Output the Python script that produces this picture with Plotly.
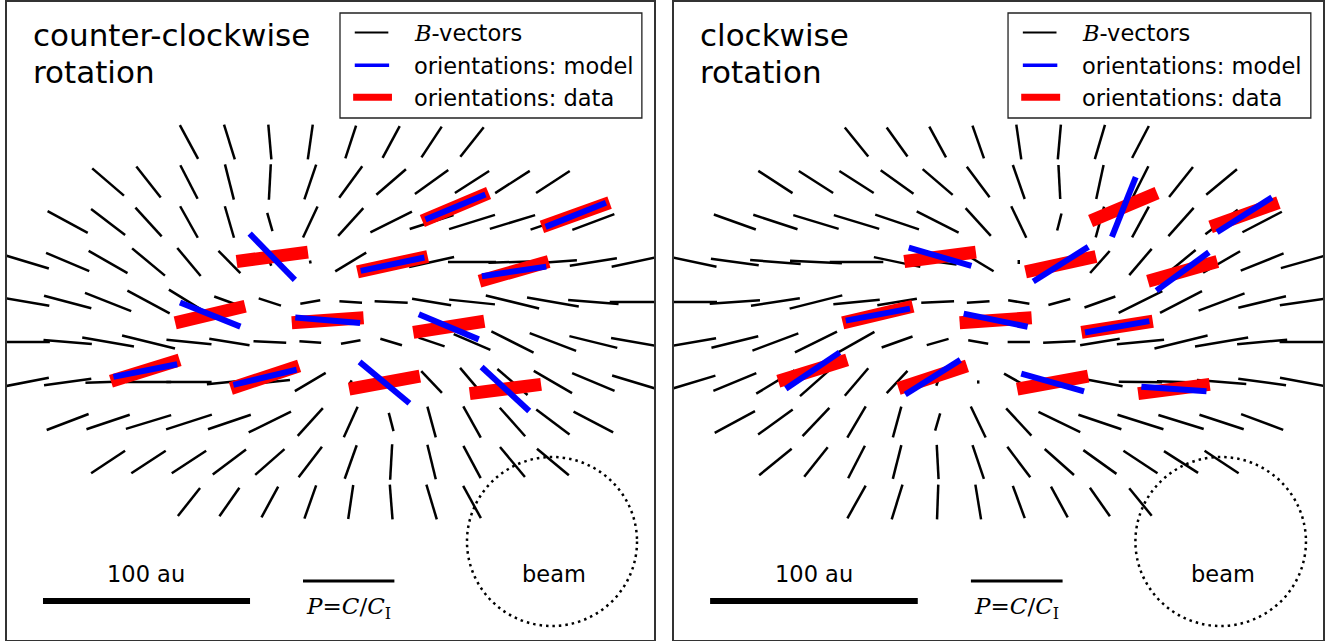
import math
import plotly.graph_objects as go

# ---------------- data ----------------
# B-vector grid (grid units; 1 unit ~ 19.5 au)
COL_X = [-7.5 + i for i in range(16)]
ROW_Y = [4.5 - j for j in range(10)]
ROW_START = [4, 2, 1, 0, 0, 0, 0, 1, 2, 4]

# counter-clockwise model: B-vector angles (deg from +x) and lengths (grid units)
CCW_ANG = [
    [-62, -73, -85, 82, 72, 62, 57, 52],
    [-41, -52, -63, -76, 87, 71.5, 54, 41, 36, 33, 33, 33.5],
    [-28.5, -37.4, -48, -61, -74, -74, 65, 48, 26.6, 18, 17.4, 17, 19, 20.6],
    [-17, -23, -30, -40, -50.5, -46, -70, -80, 31.5, 15, 12.6, 0, 2, 4, 9, 12],
    [-10, -15, -21.7, -28.5, -32, -20, -18, 9.5, -4, -3, -9.7, -6, -14, -10, -4.6, 0],
    [0, -4.8, -10, -14, -6, -9.5, -3, -4.4, 10, -17, -19, -23.5, -27, -21, -14, -10],
    [11, 8, 2, 0, 0, 6, 6, 31, 60, -40, -47, -50, -41, -30.6, -23, -17],
    [21, 18.7, 17, 18, 19, 26.6, 48, 66, -75.6, -75, -61, -48.6, -37, -28],
    [33.7, 33.5, 33.5, 37, 41.6, 53, 70.6, 86.8, -76.5, -62, -50.5, -40],
    [52, 55.4, 61.7, 70.7, 81.7, -85.6, -73.6, -61.6],
]
CCW_LEN = [
    [0.96, 0.91, 0.87, 0.88, 0.86, 0.90, 0.92, 0.94],
    [1.04, 0.98, 0.94, 0.91, 0.89, 0.92, 0.97, 0.97, 1.02, 1.01, 1.02, 1.00],
    [1.13, 1.06, 0.97, 0.90, 0.82, 0.47, 0.85, 0.93, 1.15, 1.14, 1.19, 1.17, 1.17, 1.11],
    [1.12, 1.16, 1.11, 1.06, 0.91, 0.78, 0.20, 0.08, 0.90, 0.60, 1.14, 1.19, 1.19, 1.19, 1.18, 1.12],
    [1.11, 1.21, 1.23, 1.19, 1.17, 0.80, 0.58, 0.50, 0.56, 0.82, 0.98, 1.14, 1.36, 1.30, 1.25, 1.19],
    [1.12, 1.20, 1.30, 1.35, 1.12, 1.01, 0.81, 0.54, 0.49, 0.56, 0.68, 0.99, 1.17, 1.23, 1.22, 1.14],
    [1.09, 1.18, 1.12, 1.12, 1.12, 1.12, 1.00, 0.89, 0.10, 0.25, 0.75, 0.92, 0.99, 1.10, 1.14, 1.12],
    [1.11, 1.13, 1.17, 1.19, 1.12, 1.17, 0.93, 0.84, 0.47, 0.80, 0.89, 0.95, 1.03, 1.11],
    [1.01, 1.02, 1.02, 1.03, 0.97, 0.96, 0.89, 0.89, 0.89, 0.91, 0.97, 1.03],
    [0.89, 0.87, 0.87, 0.88, 0.86, 0.87, 0.91, 0.92],
]

# clockwise model
CW_ANG = [
    [-51.5, -54.8, -61.7, -71, -82, 85, 73.7, 62.7],
    [-33.3, -33, -33, -36, -41, -53.8, -71, -87, 78, 63.7, 51.7, 40],
    [-19.8, -18.5, -17, -17, -19, -27, -48, -64.7, 76, 75, 61.7, 48.5, 37.7, 27.8],
    [-12, -8, -4.6, -2.6, 0, -12, -8, -31.5, 90, 40, 48.7, 50, 40, 30.6, 22, 16],
    [0, 3.8, 9, 14.3, 5.8, 9.7, 3, 4.3, -9, 15.5, 20, 27, 27.8, 20.7, 13.9, 8.4],
    [10, 14, 20.7, 26.7, 30, 20, 16, -9.5, 0, 3, 9.6, 5.7, 14, 9.7, 5.3, 0],
    [17, 22.9, 31.6, 42, 50, 47.6, 70, 90, -30, -15, -11, -1, -2, -4.7, -8, -10.5],
    [28.5, 36.4, 47, 59.7, 75, 74, -64.8, -47.5, -26.4, -19, -17.8, -17.3, -18.5, -20.8],
    [39.6, 52, 63, 76, -87, -71.6, -53.5, -41.9, -36, -33.7, -32.8, -33.7],
    [61, 73, 88, -80.8, -70, -61.7, -55.4, -51],
]
CW_LEN = [
    [0.93, 0.89, 0.87, 0.87, 0.88, 0.87, 0.89, 0.90],
    [1.01, 1.01, 1.01, 1.00, 0.98, 0.95, 0.90, 0.85, 0.87, 0.88, 0.95, 0.99],
    [1.10, 1.15, 1.17, 1.17, 1.14, 1.16, 0.93, 0.87, 0.44, 0.80, 0.87, 0.94, 1.01, 1.10],
    [1.12, 1.19, 1.25, 1.28, 1.32, 1.17, 0.94, 0.89, 0.10, 0.25, 0.73, 0.86, 0.94, 1.06, 1.14, 1.12],
    [1.12, 1.24, 1.22, 1.34, 1.15, 0.99, 0.81, 0.56, 0.53, 0.56, 0.81, 1.21, 1.17, 1.21, 1.21, 1.14],
    [1.09, 1.19, 1.21, 1.16, 1.02, 0.81, 0.56, 0.50, 0.55, 0.80, 0.99, 1.17, 1.35, 1.33, 1.24, 1.14],
    [1.09, 1.15, 1.11, 1.06, 0.90, 0.76, 0.20, 0.08, 0.84, 0.60, 1.14, 1.07, 1.19, 1.22, 1.19, 1.14],
    [1.13, 1.06, 0.97, 0.90, 0.80, 0.45, 0.86, 0.92, 1.15, 1.12, 1.19, 1.17, 1.15, 1.11],
    [1.04, 0.94, 0.91, 0.87, 0.86, 0.89, 0.95, 0.97, 1.01, 1.01, 1.00, 1.01],
    [0.93, 0.91, 0.87, 0.88, 0.86, 0.87, 0.87, 0.88],
]

# observed orientations (data) and model orientations at the same positions
ORI_X = [-1.44, -2.975, -0.07, 2.925, 1.535, 3.09, 6.065, 4.54, -4.58, -1.62, 1.335, 4.325]
ORI_Y = [1.63, 0.185, 0.045, -0.12, 1.445, 2.875, 2.68, 1.265, -1.215, -1.38, -1.515, -1.675]
DATA_ANG = [7.5, 13.5, 4, 9, 12.5, 23, 20, 16, 17.5, 18.5, 10.5, 7.5]
MODEL_CCW_ANG = [-46, -22, -5, -23, 12, 23, 22, 8.5, 11.3, 13.7, -40, -43]
MODEL_CW_ANG = [-16.5, 10.7, -11.8, 10.2, 32.6, 68.6, 32.7, 36.5, 34.5, 32.5, -16, -4]

PANEL_TITLES = [["counter-clockwise", "rotation"], ["clockwise", "rotation"]]
LEGEND_LABELS = ["<span style='font-family:DejaVu Serif'><i>B</i></span>-vectors",
                 "orientations: model", "orientations: data"]
SCALE_LABEL = "100 au"
POL_LABEL = "<i>P</i>=<i>C</i>/<i>C</i><sub>I</sub>"
BEAM_LABEL = "beam"

# ---------------- helpers ----------------
DATA_LEN = 1.78
MODEL_LEN = 1.61


def seg(xc, yc, ang, length):
    a = math.radians(ang)
    dx = 0.5 * length * math.cos(a)
    dy = 0.5 * length * math.sin(a)
    return [xc - dx, xc + dx, None], [yc - dy, yc + dy, None]


def field_xy(angs, lens):
    X, Y = [], []
    for j, (ra, rl) in enumerate(zip(angs, lens)):
        for k, (a, L) in enumerate(zip(ra, rl)):
            sx, sy = seg(COL_X[ROW_START[j] + k], ROW_Y[j], a, L)
            X += sx
            Y += sy
    return X, Y


def bars_xy(angs, length):
    X, Y = [], []
    for x, y, a in zip(ORI_X, ORI_Y, angs):
        sx, sy = seg(x, y, a, length)
        X += sx
        Y += sy
    return X, Y


FONT = "DejaVu Sans"
fig = go.Figure()
shapes = []
annos = []

panels = [
    ("x", "y", CCW_ANG, CCW_LEN, MODEL_CCW_ANG),
    ("x2", "y2", CW_ANG, CW_LEN, MODEL_CW_ANG),
]
for p, (xa, ya, angs, lens, mang) in enumerate(panels):
    fx, fy = field_xy(angs, lens)
    fig.add_trace(go.Scatter(x=fx, y=fy, mode="lines", xaxis=xa, yaxis=ya,
                             line=dict(color="black", width=2.5), hoverinfo="skip",
                             showlegend=False))
    rx, ry = bars_xy(DATA_ANG, DATA_LEN)
    fig.add_trace(go.Scatter(x=rx, y=ry, mode="lines", xaxis=xa, yaxis=ya,
                             line=dict(color="#ff0000", width=13), hoverinfo="skip",
                             showlegend=False))
    bx, by = bars_xy(mang, MODEL_LEN)
    fig.add_trace(go.Scatter(x=bx, y=by, mode="lines", xaxis=xa, yaxis=ya,
                             line=dict(color="#0000ff", width=6), hoverinfo="skip",
                             showlegend=False))

    # legend box
    shapes.append(dict(type="rect", xref=xa, yref=ya, x0=0.235, x1=7.70, y0=5.1, y1=7.725,
                       line=dict(color="#222222", width=1.3), fillcolor="white", layer="above"))
    shapes.append(dict(type="line", xref=xa, yref=ya, x0=0.60, x1=1.43, y0=7.24, y1=7.24,
                       line=dict(color="black", width=2), layer="above"))
    shapes.append(dict(type="line", xref=xa, yref=ya, x0=0.60, x1=1.45, y0=6.42, y1=6.42,
                       line=dict(color="#0000ff", width=3.6), layer="above"))
    shapes.append(dict(type="line", xref=xa, yref=ya, x0=0.56, x1=1.52, y0=5.62, y1=5.62,
                       line=dict(color="#ff0000", width=7), layer="above"))
    for lab, yy in zip(LEGEND_LABELS, [7.22, 6.39, 5.61]):
        annos.append(dict(text=lab, xref=xa, yref=ya, x=2.02, y=yy, xanchor="left",
                          yanchor="middle", showarrow=False,
                          font=dict(family=FONT, size=22.5, color="black")))
    # titles
    for line, yy in zip(PANEL_TITLES[p], [7.17, 6.25]):
        annos.append(dict(text=line, xref=xa, yref=ya, x=-7.41, y=yy, xanchor="left",
                          yanchor="middle", showarrow=False,
                          font=dict(family=FONT, size=31, color="black")))
    # scale bar
    shapes.append(dict(type="line", xref=xa, yref=ya, x0=-7.11, x1=-1.99, y0=-6.975, y1=-6.975,
                       line=dict(color="black", width=6)))
    annos.append(dict(text=SCALE_LABEL, xref=xa, yref=ya, x=-4.56, y=-6.30, xanchor="center",
                      yanchor="middle", showarrow=False,
                      font=dict(family=FONT, size=22.5, color="black")))
    # polarization reference bar
    shapes.append(dict(type="line", xref=xa, yref=ya, x0=-0.68, x1=1.58, y0=-6.475, y1=-6.475,
                       line=dict(color="black", width=3)))
    annos.append(dict(text=POL_LABEL, xref=xa, yref=ya, x=0.44, y=-7.16, xanchor="center",
                      yanchor="middle", showarrow=False,
                      font=dict(family="DejaVu Serif", size=23, color="black")))
    # beam
    shapes.append(dict(type="circle", xref=xa, yref=ya, x0=3.375, x1=7.58, y0=-7.6, y1=-3.375,
                       line=dict(color="black", width=2.5, dash="2.5px,4px")))
    annos.append(dict(text=BEAM_LABEL, xref=xa, yref=ya, x=5.53, y=-6.30, xanchor="center",
                      yanchor="middle", showarrow=False,
                      font=dict(family=FONT, size=22.5, color="black")))

W, H = 1329, 641
ax_common = dict(showgrid=False, zeroline=False, showticklabels=False, ticks="",
                 showline=True, mirror=True, linecolor="#333333", linewidth=1.5, fixedrange=True)
ydom = [1 - 640 / H, 1 - 2 / H]
fig.update_layout(
    width=W, height=H, margin=dict(l=0, r=0, t=0, b=0),
    paper_bgcolor="white", plot_bgcolor="white", showlegend=False, hovermode=False,
    xaxis=dict(domain=[7 / W, 654 / W], range=[-8, 8], anchor="y", **ax_common),
    yaxis=dict(domain=ydom, range=[-7.95, 8.0], anchor="x", **ax_common),
    xaxis2=dict(domain=[674 / W, 1323 / W], range=[-8, 8], anchor="y2", **ax_common),
    yaxis2=dict(domain=ydom, range=[-7.95, 8.0], anchor="x2", **ax_common),
    shapes=shapes, annotations=annos,
    font=dict(family=FONT),
)
fig.write_html("out.html", config={"displayModeBar": False},
               post_script="document.body.style.margin='0px';document.body.style.overflow='hidden';")
